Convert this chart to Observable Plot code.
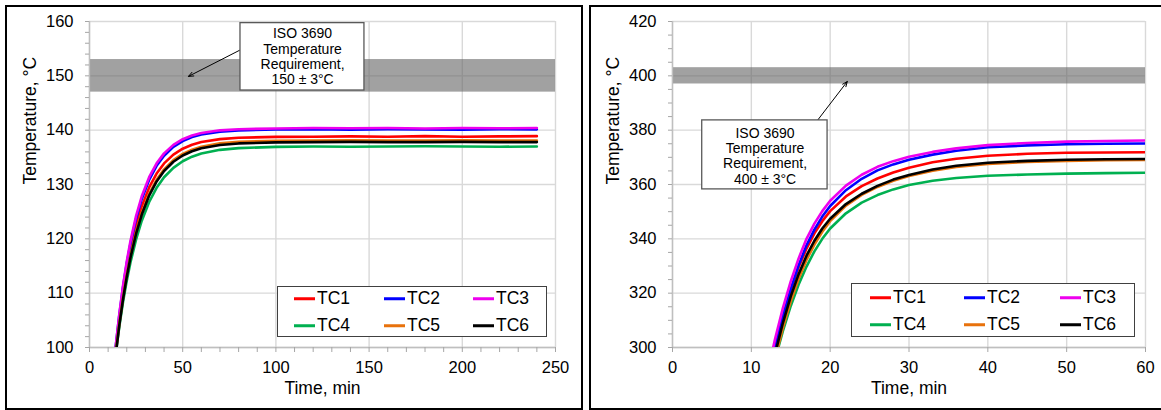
<!DOCTYPE html>
<html>
<head>
<meta charset="utf-8">
<script src="https://cdn.jsdelivr.net/npm/d3@7"></script>
<script src="https://cdn.jsdelivr.net/npm/@observablehq/plot@0.6"></script>
<style>
  html, body { margin: 0; padding: 0; background: #fff; }
  #page { position: relative; width: 1161px; height: 410px; overflow: hidden; background: #fff;
          font-family: "Liberation Sans", Arial, sans-serif; }
  .border { position: absolute; box-sizing: border-box; border: 2.5px solid #000; }
  .plot { position: absolute; top: 0; }
  .legend { position: absolute; box-sizing: border-box; border: 1.5px solid #404040; background: #fff; }
  .item { position: absolute; display: flex; align-items: center; font-size: 17.5px; color: #000; line-height: 1; }
  .sw { display: inline-block; width: 21px; height: 2.6px; margin-right: 2px; }
</style>
</head>
<body>
<div id="page">
  <div class="border" style="left:5px; top:5px; width:578px; height:405px;"></div>
  <div class="border" style="left:589px; top:5px; width:580px; height:405px;"></div>
</div>
<script>
// ---------- data ----------
const seriesNames = ["TC1", "TC2", "TC3", "TC4", "TC5", "TC6"];
const seriesColors = ["#ff0000", "#0000ff", "#ee00ee", "#00b050", "#e8720c", "#000000"];

// Left panel: 150 °C test
const leftTime = [14,16,18,20,22,25,28,32,36,40,45,50,55,60,70,80,100,120,140,160,180,200,220,240];
const leftTC1 = [99.38,105.20,110.17,114.40,118.01,122.45,125.93,129.46,132.02,133.88,135.50,136.59,137.32,137.81,138.35,138.60,138.76,138.8,138.85,138.8,138.9,138.8,138.85,138.9];
const leftTC2 = [100.0,106.02,111.15,115.50,119.20,123.73,127.29,130.86,133.44,135.30,136.92,138.00,138.72,139.20,139.73,139.96,140.11,140.2,140.1,140.2,140.15,140.1,140.2,140.15];
const leftTC3 = [100.0,106.19,111.44,115.88,119.63,124.22,127.79,131.35,133.90,135.73,137.30,138.34,139.03,139.48,139.97,140.18,140.3,140.4,140.35,140.4,140.3,140.4,140.35,140.4];
const leftTC4 = [98.61,103.86,108.40,112.31,115.68,119.91,123.29,126.78,129.39,131.33,133.07,134.28,135.12,135.70,136.38,136.70,136.93,137.0,136.95,137.0,137.05,137.0,136.95,137.0];
const leftTC5 = [98.81,104.41,109.22,113.33,116.87,121.24,124.72,128.26,130.87,132.79,134.48,135.64,136.42,136.96,137.57,137.86,138.05,138.1,138.15,138.1,138.1,138.15,138.1,138.1];
const leftTC6 = [98.52,104.12,108.92,113.04,116.57,120.94,124.42,127.96,130.57,132.49,134.18,135.34,136.12,136.66,137.27,137.56,137.75,137.8,137.85,137.8,137.8,137.85,137.8,137.8];
const leftXTicks = [0, 50, 100, 150, 200, 250];
const leftXMinor = [10,20,30,40,60,70,80,90,110,120,130,140,160,170,180,190,210,220,230,240];
const leftYTicks = [100, 110, 120, 130, 140, 150, 160];
const leftYMinor = [102,104,106,108,112,114,116,118,122,124,126,128,132,134,136,138,142,144,146,148,152,154,156,158];
const leftBand = [147, 153];
const leftNote = ["ISO 3690", "Temperature", "Requirement,", "150 ± 3°C"];

// Right panel: 400 °C test
const rightTime = [12.5,13,14,15,16,17,18,19,20,22,24,26,28,30,33,36,40,45,50,55,60];
const rightTC1 = [293.5,300,311.5,321.2,329.5,336.4,342,346.5,350.2,355.6,359.4,362.2,364.4,366.2,368.2,369.5,370.6,371.3,371.7,371.8,371.9];
const rightTC2 = [293,299.5,311.5,321.5,330.3,337.6,343.4,348.2,352.1,357.9,362.1,365.2,367.4,369.1,371.0,372.4,373.7,374.4,374.8,375.0,375.1];
const rightTC3 = [296.5,303,314.5,324.3,332.8,340,345.6,350.2,354,359.6,363.6,366.5,368.6,370.2,372.0,373.3,374.5,375.3,375.8,376.0,376.2];
const rightTC4 = [290,295.5,306,315.3,323.2,329.8,335.4,340,343.8,349.4,353.3,356.1,358.2,359.8,361.4,362.4,363.2,363.7,364.0,364.2,364.3];
const rightTC5 = [290,295.8,307.2,317,325.3,332.2,337.9,342.6,346.5,352.2,356.2,359.1,361.4,363.1,365.1,366.5,367.6,368.3,368.7,368.9,369.0];
const rightTC6 = [291.5,297.5,309,318.8,327,333.8,339.3,343.8,347.4,352.8,356.6,359.5,361.8,363.5,365.5,366.9,368.0,368.7,369.1,369.3,369.4];
const rightXTicks = [0, 10, 20, 30, 40, 50, 60];
const rightYTicks = [300, 320, 340, 360, 380, 400, 420];
const rightYMinor = [305,310,315,325,330,335,345,350,355,365,370,375,385,390,395,405,410,415];
const rightBand = [397, 403];
const rightNote = ["ISO 3690", "Temperature", "Requirement,", "400 ± 3°C"];

const xTitle = "Time, min";
const yTitle = "Temperature, °C";

// ---------- drawing ----------
const FONT = "'Liberation Sans', Arial, sans-serif";
const page = document.getElementById("page");

function makePanel(cfg) {
  const rows = [];
  cfg.series.forEach((vals, i) => cfg.time.forEach((t, j) => rows.push({t, v: vals[j], name: seriesNames[i]})));
  const note = cfg.note;
  const chart = Plot.plot({
    width: cfg.width, height: 410,
    marginLeft: cfg.ml, marginRight: cfg.mr, marginTop: 21, marginBottom: 63,
    style: {fontFamily: FONT, fontSize: "16.5px", color: "#000", background: "transparent", overflow: "visible"},
    x: {domain: cfg.xDomain},
    y: {domain: cfg.yDomain},
    color: {domain: seriesNames, range: seriesColors},
    marks: [
      Plot.gridX(cfg.xTicks, {stroke: "#d9d9d9", strokeOpacity: 1, strokeWidth: 1.4}),
      Plot.gridY(cfg.yTicks, {stroke: "#d9d9d9", strokeOpacity: 1, strokeWidth: 1.4}),
      Plot.rect([cfg.band], {x1: cfg.xDomain[0], x2: cfg.xDomain[1], y1: d => d[0], y2: d => d[1], fill: "#626262", fillOpacity: 0.6}),
      Plot.ruleX([cfg.xDomain[0]], {stroke: "#bfbfbf", strokeWidth: 1.4}),
      Plot.ruleY([cfg.yDomain[0]], {stroke: "#bfbfbf", strokeWidth: 1.4}),
      Plot.axisX(cfg.xTicks, {tickSize: 5, tickPadding: 9, stroke: "#a6a6a6", fill: "#000", label: null}),
      cfg.xMinor ? Plot.axisX(cfg.xMinor, {tickSize: 5, tickFormat: () => "", stroke: "#a6a6a6", label: null}) : null,
      Plot.axisY(cfg.yTicks, {tickSize: 4, tickPadding: 12, stroke: "#a6a6a6", fill: "#000", label: null}),
      Plot.axisY(cfg.yMinor, {tickSize: 4, tickFormat: () => "", stroke: "#a6a6a6", label: null}),
      Plot.line(rows, {x: "t", y: "v", z: "name", stroke: "name", strokeWidth: 2.6, clip: true}),
      Plot.arrow([note], {x1: note.ax1, y1: note.ay1, x2: note.ax2, y2: note.ay2, stroke: "#000", strokeWidth: 1, headLength: 8, headAngle: 45}),
      Plot.rect([note], {x1: note.bx1, x2: note.bx2, y1: note.by1, y2: note.by2, fill: "#fff", stroke: "#595959", strokeWidth: 1.3}),
      Plot.text([note.lines.join("\n")], {x: note.tx, y: note.ty, text: d => d, fontSize: 14, lineHeight: 1.1, lineAnchor: "middle", textAnchor: "middle", fill: "#000"}),
      Plot.text([xTitle], {frameAnchor: "bottom", dy: 41, text: d => d, fontSize: 17.5, lineAnchor: "middle", fill: "#000"}),
      Plot.text([yTitle], {frameAnchor: "left", dx: -59, rotate: -90, text: d => d, fontSize: 17.5, lineAnchor: "middle", fill: "#000"})
    ]
  });
  const holder = document.createElement("div");
  holder.className = "plot";
  holder.style.left = cfg.left + "px";
  holder.appendChild(chart);
  page.appendChild(holder);

  // legend box
  const lg = document.createElement("div");
  lg.className = "legend";
  Object.assign(lg.style, {left: cfg.legend.left + "px", top: cfg.legend.top + "px", width: cfg.legend.w + "px", height: cfg.legend.h + "px"});
  seriesNames.forEach((n, i) => {
    const it = document.createElement("div");
    it.className = "item";
    it.style.left = cfg.legend.cols[i % 3] + "px";
    it.style.top = cfg.legend.rows[Math.floor(i / 3)] + "px";
    it.style.transform = "translateY(-50%)";
    const sw = document.createElement("span");
    sw.className = "sw";
    sw.style.background = seriesColors[i];
    it.appendChild(sw);
    it.appendChild(document.createTextNode(n));
    lg.appendChild(it);
  });
  page.appendChild(lg);
}

makePanel({
  left: 0, width: 585, ml: 89, mr: 30,
  time: leftTime, series: [leftTC1, leftTC2, leftTC3, leftTC4, leftTC5, leftTC6],
  xDomain: [0, 250], yDomain: [100, 160],
  xTicks: leftXTicks, xMinor: leftXMinor, yTicks: leftYTicks, yMinor: leftYMinor,
  band: leftBand,
  note: {lines: leftNote, bx1: 81, bx2: 147.5, by1: 159.7, by2: 147.3, tx: 114.3, ty: 153.6,
         ax1: 80.5, ay1: 154.7, ax2: 53.1, ay2: 149.9},
  legend: {left: 277, top: 286, w: 270, h: 51, cols: [16, 106, 195], rows: [12, 39]}
});

makePanel({
  left: 586, width: 575, ml: 86, mr: 16,
  time: rightTime, series: [rightTC1, rightTC2, rightTC3, rightTC4, rightTC5, rightTC6],
  xDomain: [0, 60], yDomain: [300, 420],
  xTicks: rightXTicks, xMinor: null, yTicks: rightYTicks, yMinor: rightYMinor,
  band: rightBand,
  note: {lines: rightNote, bx1: 3.77, bx2: 19.67, by1: 383.6, by2: 358.2, tx: 11.74, ty: 370.6,
         ax1: 18.44, ay1: 383.8, ax2: 22.17, ay2: 397.9},
  legend: {left: 851, top: 283, w: 284, h: 54, cols: [18, 112, 208], rows: [14, 41]}
});
</script>
</body>
</html>
